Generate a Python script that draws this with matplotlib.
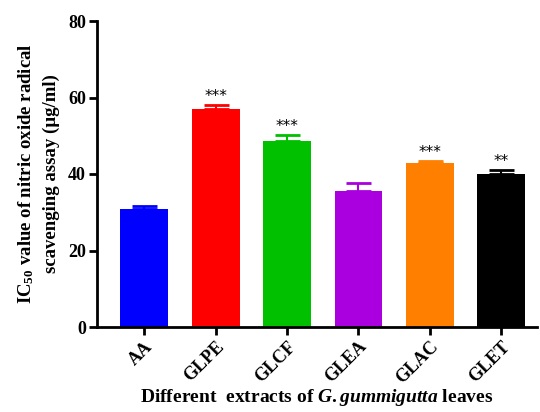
import numpy as np
import matplotlib.pyplot as plt

# Datos
categorias = ['AA', 'GLPE', 'GLCF', 'GLEA', 'GLAC', 'GLET']
valores = [30.8, 57.0, 48.6, 35.5, 42.9, 39.9]
errores = [0.9, 1.0, 1.6, 2.2, 0.5, 1.1]
significancia = ['', '***', '***', '', '***', '**']
colores = ['#0000ff', '#ff0000', '#00c000', '#aa00e0', '#ff8000', '#000000']

plt.rcParams['font.family'] = ['Liberation Serif', 'DejaVu Serif']
plt.rcParams['font.weight'] = 'bold'
plt.rcParams['mathtext.fontset'] = 'custom'
plt.rcParams['mathtext.rm'] = 'Liberation Serif:bold'
plt.rcParams['mathtext.bf'] = 'Liberation Serif:bold'
plt.rcParams['mathtext.it'] = 'Liberation Serif:italic:bold'
plt.rcParams['mathtext.bfit'] = 'Liberation Serif:italic:bold'

fig = plt.figure(figsize=(5.4, 4.12), dpi=100)
ax = fig.add_axes([97 / 540, 1 - 327 / 412, 440 / 540, 306 / 412])

x = np.arange(len(categorias))
ax.bar(x, valores, width=0.67, color=colores)
for xi, v, e, c, s in zip(x, valores, errores, colores, significancia):
    ax.errorbar(xi, v, yerr=[[0], [e]], color=c, capsize=9, capthick=2, elinewidth=1.5)
    if s:
        ax.text(xi, v + e + 0.2, s, ha='center', va='bottom', fontsize=11, color='black',
                family='DejaVu Sans', fontweight='normal')

ax.set_ylim(0, 80)
ax.set_xlim(-0.66, 5.5)
ax.set_yticks([0, 20, 40, 60, 80])
ax.set_xticks(x)
ax.set_xticklabels(categorias, rotation=45, ha='right', rotation_mode='anchor',
                   fontsize=13, fontweight='bold')
for lab in ax.get_yticklabels():
    lab.set_fontsize(13)
    lab.set_fontweight('bold')

ax.spines['top'].set_visible(False)
ax.spines['right'].set_visible(False)
ax.spines['left'].set_linewidth(2)
ax.spines['bottom'].set_linewidth(2)
ax.tick_params(width=2, length=6, direction='out', pad=2)

ax.set_ylabel('IC$_{50}$ value of nitric oxide radical\nscavenging assay (µg/ml)',
              fontsize=13.5, fontweight='bold', labelpad=6, linespacing=1.45)
ax.set_xlabel('Different  extracts of $\\mathit{G.gummigutta}$ leaves',
              fontsize=14, fontweight='bold', labelpad=0)

fig.savefig('out.png', dpi=100)
